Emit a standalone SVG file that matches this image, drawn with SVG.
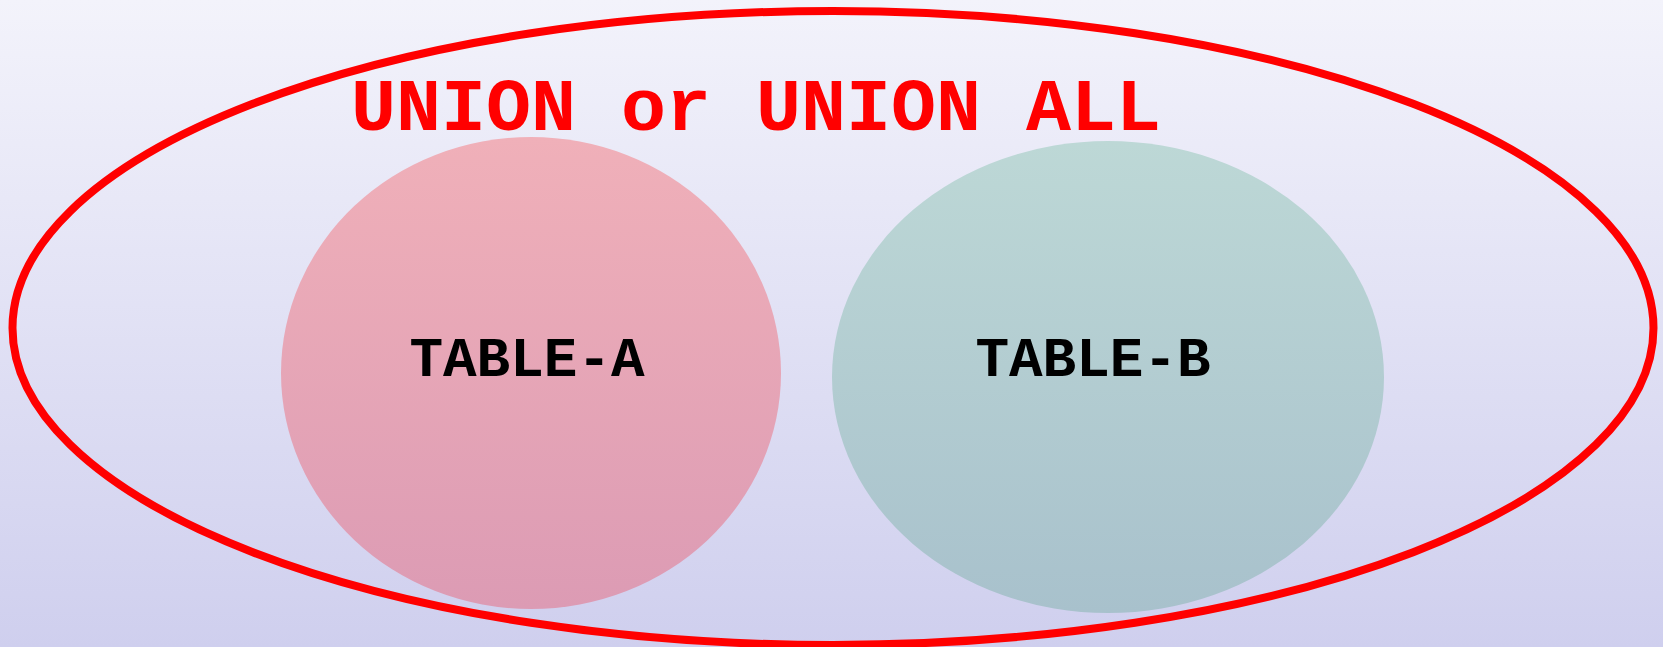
<svg xmlns="http://www.w3.org/2000/svg" width="1663" height="647" viewBox="0 0 1663 647">
<defs>
<linearGradient id="bg" x1="0" y1="0" x2="0" y2="1">
<stop offset="0" stop-color="#f3f3fb"/>
<stop offset="1" stop-color="#cfcfee"/>
</linearGradient>
<linearGradient id="gA" x1="0" y1="0" x2="0" y2="1">
<stop offset="0" stop-color="#f0b0b9"/>
<stop offset="1" stop-color="#dc9bb4"/>
</linearGradient>
<linearGradient id="gB" x1="0" y1="0" x2="0" y2="1">
<stop offset="0" stop-color="#bdd8d6"/>
<stop offset="1" stop-color="#a8c1cc"/>
</linearGradient>
<style>
.lbl{font-family:"Courier New","Liberation Mono",monospace;font-weight:bold;text-anchor:middle}
</style>
</defs>
<rect x="0" y="0" width="1663" height="647" fill="url(#bg)"/>
<g id="union">
<ellipse cx="833" cy="328" rx="820.5" ry="317" fill="none" stroke="#ff0000" stroke-width="8"/>
<text class="lbl" x="756" y="130" font-size="75" fill="#ff0000">UNION or UNION ALL</text>
</g>
<g id="table-a">
<ellipse cx="531" cy="373" rx="250" ry="236" fill="url(#gA)"/>
<text class="lbl" x="527" y="376" font-size="56" fill="#000">TABLE-A</text>
</g>
<g id="table-b">
<ellipse cx="1108" cy="377" rx="276" ry="236" fill="url(#gB)"/>
<text class="lbl" x="1093" y="376" font-size="56" fill="#000">TABLE-B</text>
</g>
<g id="connectors"/>
</svg>
